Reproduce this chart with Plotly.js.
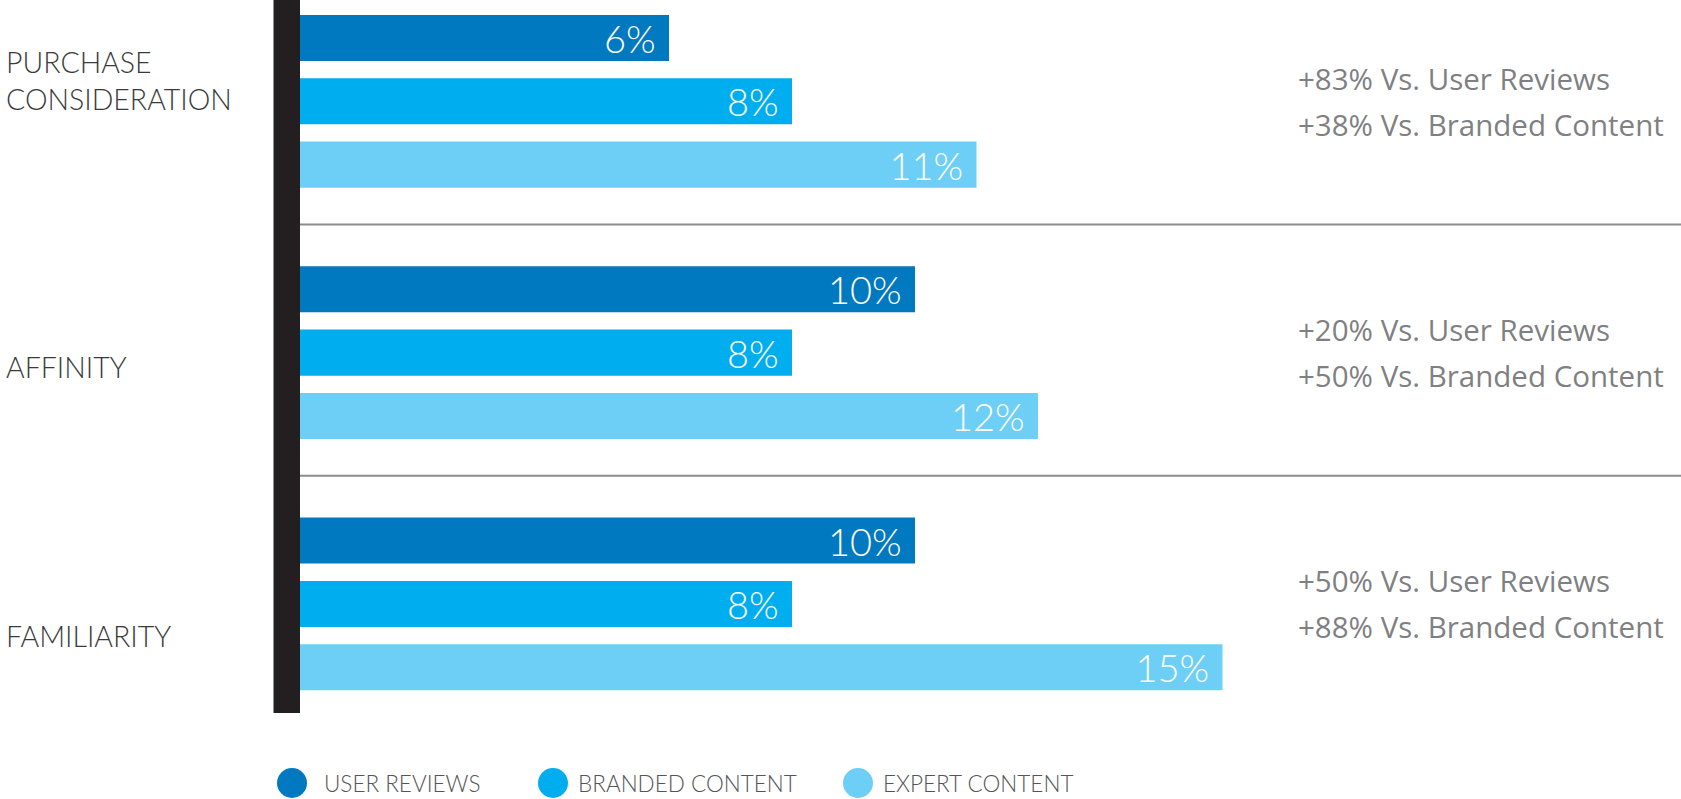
<!DOCTYPE html>
<html>
<head>
<meta charset="utf-8">
<script src="https://cdn.plot.ly/plotly-3.0.1.min.js"></script>
<style>
html,body{margin:0;padding:0;background:#fff;}
#chart{width:1681px;height:799px;}
</style>
</head>
<body>
<div id="chart"></div>
<script>
// ---- data ----
var categories = ['PURCHASE<br>CONSIDERATION', 'AFFINITY', 'FAMILIARITY'];
var seriesNames = ['USER REVIEWS', 'BRANDED CONTENT', 'EXPERT CONTENT'];
var userReviews = [6, 10, 10];
var brandedContent = [8, 8, 8];
var expertContent = [11, 12, 15];
var vsUserReviews = [83, 20, 50];
var vsBrandedContent = [38, 50, 88];

// ---- styles ----
var colors = ['#0079c1', '#00aeef', '#6dcff6'];
var W = 1681, H = 799;
var M = {l: 300, r: 0, t: 0, b: 86};
var PW = W - M.l - M.r, PH = H - M.t - M.b;
function px(x) { return (x - M.l) / PW; }
function py(y) { return (PH + M.t - y) / PH; }
var labelShift = [21, -14, -32];
var LABEL_FONT = 'Lato, "Open Sans", sans-serif';
var NOTE_FONT = '"Open Sans", Lato, sans-serif';

var seriesValues = [userReviews, brandedContent, expertContent];
var traces = seriesValues.map(function (vals, i) {
  return {
    type: 'bar', orientation: 'h', name: seriesNames[i],
    x: vals, y: categories,
    marker: {color: colors[i], line: {width: 0}},
    text: vals.map(function (v) { return v + '%\u00a0'; }),
    textposition: 'inside', insidetextanchor: 'end',
    constraintext: 'none',
    textfont: {family: LABEL_FONT, size: 38, color: '#ffffff', weight: 300},
    hoverinfo: 'x+y', showlegend: false
  };
});

var shapes = [];
// black vertical bar
shapes.push({type: 'rect', xref: 'paper', yref: 'paper', x0: px(273.5), x1: 0, y0: 0, y1: 1,
  fillcolor: '#231f20', line: {width: 0}, layer: 'above'});
// separators between groups
for (var i = 0; i < categories.length - 1; i++) {
  shapes.push({type: 'line', xref: 'paper', yref: 'y', x0: 0, x1: 1, y0: i + 0.49, y1: i + 0.49,
    line: {color: '#8c8c8c', width: 2}});
}

var annotations = [];
categories.forEach(function (c, i) {
  annotations.push({xref: 'paper', yref: 'y', x: px(4), y: c, xanchor: 'left', yanchor: 'middle',
    align: 'left', text: c, showarrow: false, yshift: labelShift[i],
    font: {family: LABEL_FONT, size: 28.5, color: '#3a3a3a', weight: 300}});
  annotations.push({xref: 'paper', yref: 'y', x: px(1296), y: c, xanchor: 'left', yanchor: 'middle',
    text: '+' + vsUserReviews[i] + '% Vs. User Reviews', showarrow: false, yshift: 23,
    font: {family: NOTE_FONT, size: 29.5, color: '#7f8083'}});
  annotations.push({xref: 'paper', yref: 'y', x: px(1296), y: c, xanchor: 'left', yanchor: 'middle',
    text: '+' + vsBrandedContent[i] + '% Vs. Branded Content', showarrow: false, yshift: -23,
    font: {family: NOTE_FONT, size: 29.5, color: '#7f8083'}});
});

// legend (circles + text)
var legCircleX = [292, 553, 858];
var legTextX = [322, 576, 881];
var legY = 783;
seriesNames.forEach(function (n, i) {
  shapes.push({type: 'circle', xref: 'paper', yref: 'paper',
    xsizemode: 'pixel', ysizemode: 'pixel',
    xanchor: px(legCircleX[i]), yanchor: py(legY),
    x0: -15, x1: 15, y0: -15, y1: 15,
    fillcolor: colors[i], line: {width: 0}});
  annotations.push({xref: 'paper', yref: 'paper', x: px(legTextX[i]), y: py(legY),
    xanchor: 'left', yanchor: 'middle', text: n, showarrow: false,
    font: {family: LABEL_FONT, size: 22.5, color: '#555555', weight: 300}});
});

var layout = {
  width: W, height: H,
  margin: M,
  paper_bgcolor: '#ffffff', plot_bgcolor: '#ffffff',
  barmode: 'group', bargap: 0.244, bargroupgap: 0.273,
  showlegend: false,
  xaxis: {range: [0, PW / 61.5], visible: false, fixedrange: true},
  yaxis: {type: 'category', range: [2.434, -0.403], visible: false, fixedrange: true},
  shapes: shapes,
  annotations: annotations
};

Plotly.newPlot('chart', traces, layout, {displayModeBar: false, staticPlot: true});
</script>
</body>
</html>
